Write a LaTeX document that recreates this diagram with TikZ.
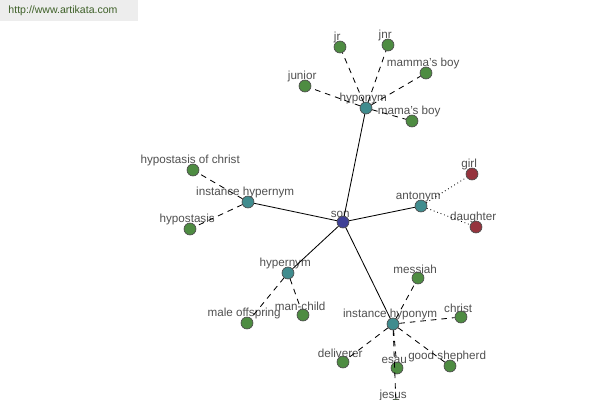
\documentclass[tikz,border=0pt]{standalone}
\usepackage{fontspec}
\setmainfont{Liberation Sans}
\usetikzlibrary{positioning}

\definecolor{leafgreen}{RGB}{78,140,66}
\definecolor{relteal}{RGB}{64,140,142}
\definecolor{rootblue}{RGB}{62,64,150}
\definecolor{antired}{RGB}{150,52,62}
\definecolor{labelgray}{RGB}{80,80,80}
\definecolor{sitegreen}{RGB}{62,96,40}

\tikzset{
    every label/.style={font=\fontsize{8.3}{9}\selectfont, text=labelgray, inner sep=0.5pt, xshift=-2pt},
    label distance=-2.2pt,
    word/.style={circle, draw=black!70, line width=0.5pt, minimum size=8.5pt, inner sep=0pt},
    leaf/.style={word, fill=leafgreen},
    rel/.style={word, fill=relteal},
    root/.style={word, fill=rootblue},
    opposite/.style={word, fill=antired},
    link/.style={line width=0.6pt},
    sub/.style={line width=0.6pt, dash pattern=on 4pt off 3.5pt},
    dots/.style={line width=0.6pt, dotted}
}

\begin{document}
\begin{tikzpicture}[x=0.025cm, y=-0.025cm]
    \useasboundingbox (0,0) rectangle (600,400);
    \clip (0,0) rectangle (600,400);

    % watermark
    \fill[black!7] (0,0) rectangle (138,21);
    \node (site) [text=sitegreen, font=\fontsize{7.5}{9}\selectfont] at (63,11) {http://www.artikata.com};

    % centre and relations
    \node (son) [root, label=above:son] at (343,222) {};
    \node (hyponym) [rel, label=above:hyponym] at (366,108) {};
    \node (insthyper) [rel, label=above:instance hypernym] at (248,202) {};
    \node (antonym) [rel, label=above:antonym] at (421,206) {};
    \node (hypernym) [rel, label=above:hypernym] at (288,273) {};
    \node (insthypo) [rel, label=above:instance hyponym] at (393,324) {};

    % hyponym
    \node (jr) [leaf, label=above:jr] at (340,47) {};
    \node (jnr) [leaf, label=above:jnr] at (388,45) {};
    \node (mammasboy) [leaf, label=above:mamma's boy] at (426,73) {};
    \node (junior) [leaf, label=above:junior] at (305,86) {};
    \node (mamasboy) [leaf, label=above:mama's boy] at (412,121) {};

    % instance hypernym
    \node (hypochrist) [leaf, label=above:hypostasis of christ] at (193,170) {};
    \node (hypostasis) [leaf, label=above:hypostasis] at (190,229) {};

    % antonym
    \node (girl) [opposite, label=above:girl] at (472,174) {};
    \node (daughter) [opposite, label=above:daughter] at (476,227) {};

    % hypernym
    \node (maleoff) [leaf, label=above:male offspring] at (247,323) {};
    \node (manchild) [leaf, label=above:man-child] at (303,315) {};

    % instance hyponym
    \node (messiah) [leaf, label=above:messiah] at (418,278) {};
    \node (christ) [leaf, label=above:christ] at (461,317) {};
    \node (deliverer) [leaf, label=above:deliverer] at (343,362) {};
    \node (esau) [leaf, label=above:esau] at (397,368) {};
    \node (goodshep) [leaf, label=above:good shepherd] at (450,366) {};
    \node (jesus) [leaf, label=above:jesus] at (396,405) {};

    \draw[link] (son) -- (hyponym);
    \draw[link] (son) -- (insthyper);
    \draw[link] (son) -- (antonym);
    \draw[link] (son) -- (hypernym);
    \draw[link] (son) -- (insthypo);

    \foreach \w in {jr, jnr, mammasboy, junior, mamasboy}
        \draw[sub] (hyponym) -- (\w);
    \foreach \w in {hypochrist, hypostasis}
        \draw[sub] (insthyper) -- (\w);
    \foreach \w in {maleoff, manchild}
        \draw[sub] (hypernym) -- (\w);
    \foreach \w in {messiah, christ, deliverer, esau, goodshep, jesus}
        \draw[sub] (insthypo) -- (\w);
    \foreach \w in {girl, daughter}
        \draw[dots] (antonym) -- (\w);

\end{tikzpicture}
\end{document}
